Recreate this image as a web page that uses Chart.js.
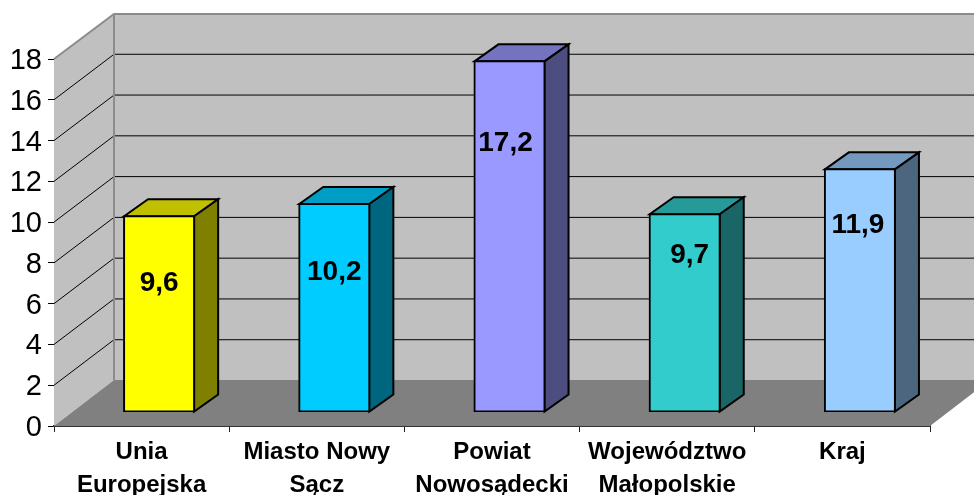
<!DOCTYPE html>
<html><head><meta charset="utf-8">
<style>html,body{margin:0;padding:0;background:#fff}canvas{display:block}</style>
<script src="https://cdn.jsdelivr.net/npm/chart.js@4"></script>
</head><body><canvas id="c" width="974" height="495"></canvas>
<script>
const categories = [["Unia","Europejska"],["Miasto Nowy","Sącz"],["Powiat","Nowosądecki"],["Województwo","Małopolskie"],["Kraj",""]];
const values = [9.6,10.2,17.2,9.7,11.9];
const frontColors = ["#ffff00","#00ccff","#9999ff","#33cccc","#99ccff"];
const topColors = ["#c0c000","#009dc4","#7373bf","#269999","#7399bf"];
const sideColors = ["#808000","#006680","#4d4d80","#1a6666","#4d6680"];
const depth = {wallX:60, floorY:46, topY:45, gridY:45.5, barShiftX:17.5, barShiftY:14, barDepthX:24, barDepthY:17};
const labelOffsets = [[0,67],[0,68],[-4,82],[5,41],[-2,56]];

const threeD = {
  id:'threeD',
  beforeDatasetsDraw(chart){
    const {ctx,scales:{x,y}}=chart, d=depth;
    const b0=y.getPixelForValue(0), t=y.getPixelForValue(18), L=x.left, R=x.right;
    ctx.save();
    // back wall
    ctx.fillStyle='#c0c0c0';
    ctx.fillRect(L+d.wallX,t-d.topY,R-L+60,b0-t);
    // side wall
    ctx.beginPath();ctx.moveTo(L,b0);ctx.lineTo(L+d.wallX,b0-d.floorY);ctx.lineTo(L+d.wallX,t-d.topY);ctx.lineTo(L,t);ctx.closePath();ctx.fill();
    // gridlines
    ctx.strokeStyle='#000';ctx.lineWidth=1;
    y.ticks.forEach(tk=>{
      if(tk.value===0||tk.value===18)return;
      const p=y.getPixelForValue(tk.value);
      ctx.beginPath();ctx.moveTo(L,p);ctx.lineTo(L+d.wallX,p-d.gridY);ctx.lineTo(R+d.wallX,p-d.gridY);ctx.stroke();
    });
    // floor
    ctx.fillStyle='#808080';
    ctx.beginPath();ctx.moveTo(L,b0);ctx.lineTo(L+d.wallX,b0-d.floorY);ctx.lineTo(R+d.wallX,b0-d.floorY);ctx.lineTo(R,b0);ctx.closePath();ctx.fill();
    // wall edges
    ctx.strokeStyle='#8c8c8c';ctx.lineWidth=2;
    ctx.beginPath();ctx.moveTo(L,t);ctx.lineTo(L+d.wallX,t-d.topY);ctx.lineTo(R+d.wallX,t-d.topY);ctx.stroke();
    ctx.beginPath();ctx.moveTo(L+d.wallX,t-d.topY);ctx.lineTo(L+d.wallX,b0-d.floorY);ctx.stroke();
    // bar top and side faces
    ctx.translate(d.barShiftX,-d.barShiftY);
    ctx.strokeStyle='#000';ctx.lineWidth=2;ctx.lineJoin='miter';
    chart.getDatasetMeta(0).data.forEach((bar,i)=>{
      const l=bar.x-bar.width/2, r=bar.x+bar.width/2, tp=bar.y, bs=bar.base;
      ctx.fillStyle=topColors[i];
      ctx.beginPath();ctx.moveTo(l,tp);ctx.lineTo(l+d.barDepthX,tp-d.barDepthY);ctx.lineTo(r+d.barDepthX,tp-d.barDepthY);ctx.lineTo(r,tp);ctx.closePath();ctx.fill();ctx.stroke();
      ctx.fillStyle=sideColors[i];
      ctx.beginPath();ctx.moveTo(r,tp);ctx.lineTo(r+d.barDepthX,tp-d.barDepthY);ctx.lineTo(r+d.barDepthX,bs-d.barDepthY);ctx.lineTo(r,bs);ctx.closePath();ctx.fill();ctx.stroke();
    });
    ctx.restore();
    // front faces: the library draws them, shifted into the box
    ctx.save();ctx.translate(d.barShiftX,-d.barShiftY);
  },
  afterDatasetsDraw(chart){
    const {ctx}=chart;
    ctx.restore();
    ctx.save();
    ctx.fillStyle='#000';ctx.font='bold 28px "Liberation Sans",Arial,sans-serif';
    ctx.textAlign='center';ctx.textBaseline='middle';
    chart.getDatasetMeta(0).data.forEach((bar,i)=>{
      ctx.fillText(String(values[i]).replace('.',','),bar.x+depth.barShiftX+labelOffsets[i][0],bar.y-depth.barShiftY+labelOffsets[i][1]);
    });
    ctx.restore();
  }
};

new Chart(document.getElementById('c'),{
  type:'bar',
  data:{labels:categories,datasets:[{data:values,backgroundColor:frontColors,borderColor:'#000',borderWidth:2,borderSkipped:false,inflateAmount:1,categoryPercentage:1,barPercentage:0.4}]},
  plugins:[threeD],
  options:{
    responsive:false,animation:false,
    layout:{padding:{top:59,right:44,left:0,bottom:0}},
    plugins:{legend:{display:false},title:{display:false},tooltip:{enabled:false}},
    scales:{
      y:{min:0,max:18,
        afterFit(s){s.width=54},
        ticks:{stepSize:2,color:'#000',padding:6,labelOffset:2,font:{family:'"Liberation Sans",Arial,sans-serif',size:29}},
        grid:{drawOnChartArea:false,tickLength:6,color:'#000'},
        border:{color:'#222',width:1}},
      x:{
        afterFit(s){s.height=69},
        ticks:{color:'#000',padding:4,maxRotation:0,autoSkip:false,font:{family:'"Liberation Sans",Arial,sans-serif',size:24,weight:'bold',lineHeight:1.375}},
        grid:{drawOnChartArea:false,tickLength:6,color:'#222'},
        border:{color:'#333',width:2}}
    }
  }
});
</script></body></html>
